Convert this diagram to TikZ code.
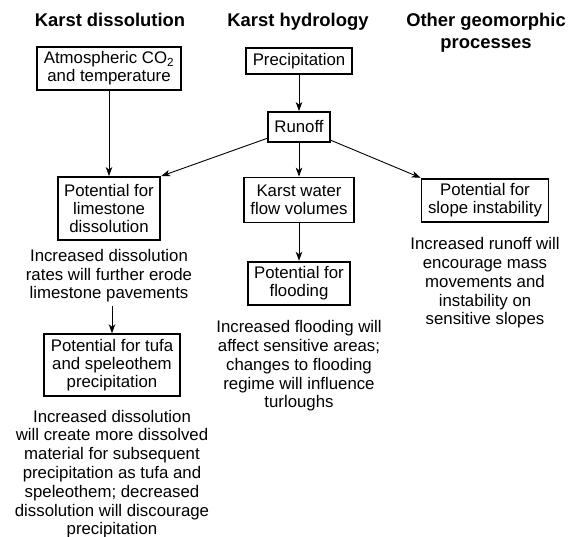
\documentclass[tikz,border=0pt]{standalone}
\usepackage{fontspec}
\setmainfont{Liberation Sans}
\usetikzlibrary{arrows.meta,positioning}

\begin{document}
\begin{tikzpicture}[
  x=1pt, y=-1pt,
  every node/.style={align=center, font=\fontsize{16.8}{18.8}\selectfont},
  box/.style={draw, line width=1.8pt, inner xsep=6.5pt, inner ysep=5pt, font=\fontsize{16.8}{18}\selectfont},
  note/.style={inner sep=0pt},
  head/.style={inner sep=0pt, anchor=north, font=\fontsize{18.4}{22}\selectfont\bfseries},
  arr/.style={-{Stealth[length=9pt, width=6.5pt, inset=2.5pt]}, line width=0.9pt},
]
  \useasboundingbox (0,0) rectangle (575,537);

  % Column headings
  \node[head] (hdis) at (110,13) {Karst dissolution};
  \node[head] (hhyd) at (298,13) {Karst hydrology};
  \node[head] (hgeo) at (486,13) {Other geomorphic\\processes};

  % Karst dissolution
  \node[box] (atm) at (109,68.5) {Atmospheric CO\textsubscript{2}\\and temperature};
  \node[box, minimum height=63pt] (lim) at (109,208.5) {Potential for\\limestone\\dissolution};
  \node[note, below=8pt of lim] (limnote) {Increased dissolution\\rates will further erode\\limestone pavements};
  \node[box] (tufa) at (112,365) {Potential for tufa\\and speleothem\\precipitation};
  \node[note, below=13pt of tufa] (tufanote) {Increased dissolution\\will create more dissolved\\material for subsequent\\precipitation as tufa and\\speleothem; decreased\\dissolution will discourage\\precipitation};

  % Karst hydrology
  \node[box] (prec) at (299,61) {Precipitation};
  \node[box, minimum height=30pt] (run) at (299,127) {Runoff};
  \node[box, minimum height=45pt] (kwf) at (299,200) {Karst water\\flow volumes};
  \node[box] (flood) at (299,283.5) {Potential for\\flooding};
  \node[note, below=14pt of flood] (floodnote) {Increased flooding will\\affect sensitive areas;\\changes to flooding\\regime will influence\\turloughs};

  % Other geomorphic processes
  \node[box] (slope) at (485,200.5) {Potential for\\slope instability};
  \node[note, below=14pt of slope] (slopenote) {Increased runoff will\\encourage mass\\movements and\\instability on\\sensitive slopes};

  % Edges
  \draw[arr] (atm) -- (lim);
  \draw[arr] (prec) -- (run);
  \draw[arr] (run) -- (kwf);
  \draw[arr] (kwf) -- (flood);
  \draw[arr] (run) -- (lim.north east);
  \draw[arr] (run) -- (slope.north west);
  \draw[arr, shorten <=3pt] (limnote.south -| tufa.north) -- (tufa);
\end{tikzpicture}
\end{document}
